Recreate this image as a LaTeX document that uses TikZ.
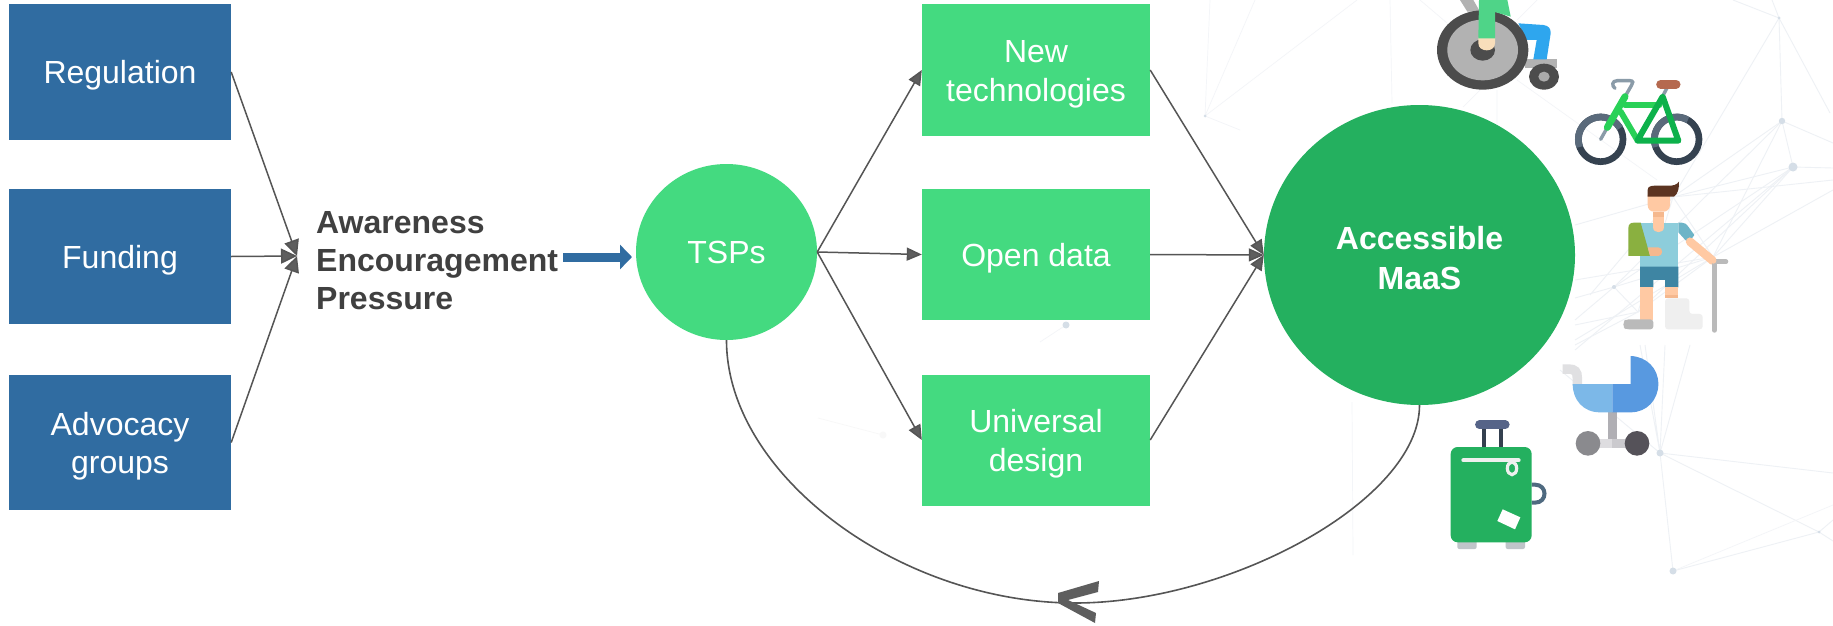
\documentclass[tikz,border=0pt]{standalone}
\usepackage{fontspec}
\setmainfont{Liberation Sans}
\usetikzlibrary{arrows.meta,shapes.geometric}
\newcommand{\padA}{\rule{0pt}{30.5pt}}
\newcommand{\padB}{\rule{0pt}{28.5pt}}
\definecolor{boxblue}{HTML}{306CA1}
\definecolor{lightgreen}{HTML}{44DA80}
\definecolor{darkgreen}{HTML}{24B05F}
\definecolor{linegray}{HTML}{555555}
\definecolor{tipgray}{HTML}{5E5E5E}
\definecolor{textgray}{HTML}{404040}
\definecolor{netline}{HTML}{EEF1F5}
\definecolor{netdot}{HTML}{D5DEE7}
\definecolor{ghost}{HTML}{F8F8F8}
\definecolor{skin}{HTML}{FFC9A3}
\definecolor{skindark}{HTML}{F5B88E}
\definecolor{hand}{HTML}{F8DEBB}
\definecolor{sleeve}{HTML}{4FD488}
\definecolor{legblue}{HTML}{2EA6EE}
\definecolor{tyredark}{HTML}{354250}
\definecolor{tyrelight}{HTML}{5A6A7B}
\definecolor{steel}{HTML}{8A9BA8}
\definecolor{saddle}{HTML}{B5694F}
\definecolor{framelight}{HTML}{29D157}
\definecolor{framedark}{HTML}{0DB14B}
\definecolor{hair}{HTML}{5C3421}
\definecolor{shirt}{HTML}{8DCDDB}
\definecolor{shirtdark}{HTML}{6DB4C7}
\definecolor{sling}{HTML}{8AB040}
\definecolor{shorts}{HTML}{3E85A3}
\definecolor{cast}{HTML}{EFEFEF}
\definecolor{prampale}{HTML}{E0E0E2}
\definecolor{prampost}{HTML}{B0AFB4}
\definecolor{axleL}{HTML}{DEDDE0}
\definecolor{axleR}{HTML}{CBCACE}
\definecolor{pramlight}{HTML}{7CB8E8}
\definecolor{pramblue}{HTML}{5899E0}
\definecolor{wheelL}{HTML}{8A8A8E}
\definecolor{wheelR}{HTML}{555259}
\definecolor{casepost}{HTML}{34404F}
\definecolor{casegrip}{HTML}{566488}
\definecolor{casefoot}{HTML}{BFC5C9}
\definecolor{caseside}{HTML}{4F6A80}
\definecolor{zipper}{HTML}{EEF0EE}
\tikzset{
  bluebox/.style={fill=boxblue,text=white,minimum width=222pt,minimum height=135pt,inner sep=0pt,align=center,font=\fontsize{32}{38.5}\selectfont},
  greenbox/.style={fill=lightgreen,text=white,minimum width=228pt,minimum height=131pt,inner sep=0pt,align=center,font=\fontsize{32}{39}\selectfont},
  conn/.style={draw=linegray,line width=1.5pt,-{Triangle[length=16pt,width=15pt,fill=tipgray]}},
  fan/.style={draw=linegray,line width=1.5pt,-{Triangle[length=15pt,width=13pt,fill=tipgray]}},
  curveline/.style={draw=linegray,line width=1.6pt},
  net/.style={draw=netline,line width=0.9pt},
  netfaint/.style={draw=netline!70,line width=0.7pt},
  dot/.style={fill=netdot,draw=none},
  iconA/.style={shift={(1380,0)},x=0.33333pt,y=-0.33333pt},
  iconB/.style={shift={(1380,320)},x=0.33333pt,y=-0.33333pt},
}
\begin{document}
\begin{tikzpicture}[x=1pt,y=-1pt]
\useasboundingbox (0,0) rectangle (1833,626);
\fill[white] (0,0) rectangle (1833,626);

% background network
\coordinate (n1) at (1779,18);
\coordinate (n2) at (1782,121);
\coordinate (n3) at (1793,167);
\coordinate (n4) at (1673,197);
\coordinate (n5) at (1713,257);
\coordinate (n6) at (1614,287);
\coordinate (n7) at (1638,312);
\coordinate (n8) at (1660,453);
\coordinate (n9) at (1673,571);
\coordinate (n10) at (1819,532);
\coordinate (n11) at (1205,116);
\coordinate (n12) at (1066,325);
\coordinate (n13) at (883,435);
\foreach \a/\b in {n1/n2,n2/n3,n2/n4,n2/n5,n3/n4,n3/n5,n3/n6,n4/n5,n4/n7,n5/n6,n5/n7,n6/n7,n8/n9,n8/n10,n9/n10,n2/n6,n3/n7,n1/n4}
  \draw[net] (\a) -- (\b);
\draw[net] (n3) -- (1833,168);
\draw[net] (n1) -- (1772,0) (n1) -- (1733,0) (n1) -- (1830,113) (n2) -- (1833,143);
\draw[net] (n4) -- (1833,180) (n5) -- (1833,190) (n6) -- (1575,298) (n6) -- (1575,320);
\draw[net] (n5) -- (1575,280) (n5) -- (1575,340) (n7) -- (1575,325) (n7) -- (1575,345);
\draw[net] (n4) -- (1575,225) (n3) -- (1575,350) (n4) -- (1590,295);
\draw[net] (n8) -- (1640,345) (n8) -- (1645,345) (n8) -- (1665,345) (n8) -- (1690,345);
\draw[net] (n8) -- (1833,473) (n8) -- (1560,370) (n10) -- (1833,520) (n10) -- (1833,541);
\draw[netfaint] (n9) -- (1833,505);
\draw[netfaint] (n11) -- (1255,0) (n11) -- (1210,0) (n11) -- (1357,0) (n11) -- (1240,130);
\draw[netfaint] (1390,0) -- (1392,103) (1420,0) -- (1447,23) (1517,80) -- (1657,180);
\draw[netfaint] (1537,0) -- (1517,20) (1497,90) -- (1497,125) (1480,90) -- (1463,107);
\draw[netfaint] (1352,402) -- (1353,555);
\draw[netfaint] (n12) -- (1040,342);
\draw[ghost,line width=0.7pt] (n13) -- (818,418);
\fill[dot] (n3) circle (4.5);
\fill[dot] (n2) circle (3.2);
\fill[dot] (n1) circle (1.5);
\fill[dot] (n6) circle (2);
\fill[dot] (n8) circle (3.5);
\fill[dot] (n9) circle (3.5);
\fill[dot] (n10) circle (1.5);
\fill[dot] (n11) circle (1.5);
\fill[dot] (n12) circle (3.5);
\fill[ghost] (n13) circle (3.5);

% left boxes
\node[bluebox] (reg) at (120,72) {\padA Regulation};
\node[bluebox] (fun) at (120,256.5) {\padA Funding};
\node[bluebox] (adv) at (120,442.5) {\padA Advocacy\\groups};
\coordinate (conv) at (297,256);
\draw[conn] (reg.east) -- (conv);
\draw[conn] (fun.east) -- (conv);
\draw[conn] (adv.east) -- (conv);

\node[text=textgray,font=\bfseries\fontsize{32}{38}\selectfont,align=left,anchor=west,inner sep=0pt] (txt) at (316,261) {Awareness\\Encouragement\\Pressure};

% TSPs
\node[ellipse,fill=lightgreen,text=white,inner sep=0pt,minimum width=181pt,minimum height=176pt,font=\fontsize{32}{39}\selectfont] (tsp) at (726.5,252) {TSPs};
\coordinate (txtE) at (563,257);
\coordinate (tspW) at (632,257);
\draw[boxblue,line width=9pt,-{Triangle[length=12pt,width=24pt]}] (txtE) -- (tspW);

% middle boxes
\node[greenbox] (new) at (1036,70) {\padA New\\technologies};
\node[greenbox] (opn) at (1036,254.5) {\padA Open data};
\node[greenbox] (uni) at (1036,440) {\padA Universal\\design};
\draw[fan] (tsp.east) -- (new.west);
\draw[fan] (tsp.east) -- (opn.west);
\draw[fan] (tsp.east) -- (uni.west);

% accessible MaaS
\node[ellipse,fill=darkgreen,text=white,inner sep=0pt,minimum width=311pt,minimum height=300pt,align=center,font=\bfseries\fontsize{32}{40}\selectfont] (maas) at (1419.5,255) {\padB Accessible\\MaaS};
\draw[fan] (new.east) -- (maas.west);
\draw[fan] (opn.east) -- (maas.west);
\draw[fan] (uni.east) -- (maas.west);

% return curve
\coordinate (low) at (1075,603);
\draw[curveline] (tsp.south) .. controls (726.5,475) and (900,603) .. (low);
\draw[curveline] (low) .. controls (1230,603) and (1419.5,500) .. (maas.south);
\fill[tipgray] (1058,593) -- (1099,581) -- (1098,592) -- (1068,600) -- (1096,613) -- (1095,623) -- (1058,603) -- cycle;

% wheelchair
\begin{scope}[iconA]
  \fill[black!30] (240,0) -- (280,0) -- (300,35) -- (262,35) -- cycle;
  \fill[black!30] (435,178) rectangle (530,205);
  \fill[legblue] (415,70) -- (490,75) .. controls (505,77) and (513,85) .. (512,100) -- (500,178) -- (460,178) -- (470,120) -- (440,120) -- cycle;
  \fill[black!70] (308,150) ellipse [x radius=137,y radius=119];
  \fill[black!30] (308,150) ellipse [x radius=106,y radius=91];
  \fill[black!70] (308,150) ellipse [x radius=37,y radius=32];
  \fill[black!70] (492,230) ellipse [x radius=45,y radius=39];
  \fill[black!33] (492,230) ellipse [x radius=17,y radius=15];
  \fill[hand] (295,112) -- (345,112) -- (345,130) .. controls (345,158) and (295,158) .. (295,130) -- cycle;
  \fill[sleeve] (297,0) -- (382,0) -- (392,50) -- (345,36) -- (345,115) -- (295,115) -- cycle;
\end{scope}

% bicycle
\begin{scope}[iconA]
  \foreach \cx/\sa/\ea in {662/-200/-30,890/-200/-60}{
    \draw[tyredark,line width=6.7pt] (\cx,418) circle (67);
    \draw[tyrelight,line width=6.7pt] ([shift={(\cx,418)}]\sa:67) arc[start angle=\sa,end angle=\ea,radius=67];
  }
  \draw[steel,line width=3.4pt,line cap=round] (662,418) -- (700,350);
  \draw[steel,line width=3.4pt,line cap=round] (705,265) .. controls (695,258) and (695,242) .. (712,242) -- (750,242) .. controls (760,242) and (760,250) .. (755,255) -- (735,290);
  \draw[steel,line width=3.4pt] (862,262) -- (846,292);
  \draw[saddle,line width=9pt,line cap=round] (842,253) -- (888,253);
  \draw[framelight,line width=6pt,line cap=round] (735,315) -- (838,315);
  \draw[framelight,line width=6pt,line cap=round] (722,335) -- (772,420);
  \draw[framelight,line width=7pt,line cap=round] (735,290) -- (682,382);
  \draw[framedark,line width=6pt,line cap=round,line join=round] (848,290) -- (772,422) -- (895,422) -- cycle;
\end{scope}

% injured man
\begin{scope}[iconA]
  \fill[skin] (803,585) -- (870,585) -- (870,615) .. controls (870,628) and (860,635) .. (850,635) -- (822,635) .. controls (812,635) and (803,628) .. (803,615) -- cycle;
  \fill[hair] (803,590) -- (803,570) .. controls (803,560) and (812,557) .. (825,557) -- (865,557) .. controls (880,557) and (890,555) .. (897,545) .. controls (897,565) and (895,580) .. (882,590) -- cycle;
  \fill[skindark] (820,635) rectangle (852,652);
  \fill[shirt] (780,668) -- (895,668) -- (895,800) -- (780,800) -- cycle;
  \fill[shirtdark] (780,668) -- (810,768) -- (780,768) -- cycle;
  \fill[shirtdark] (895,668) -- (905,668) .. controls (915,668) and (920,672) .. (925,680) -- (943,705) -- (925,730) -- (895,697) -- cycle;
  \draw[skin,line width=8.5pt,line cap=round] (930,725) -- (998,782);
  \fill[skin] (820,652) rectangle (852,680);
  \fill[skin] (820,680) .. controls (820,702) and (852,702) .. (852,680) -- cycle;
  \fill[sling] (745,768) -- (745,685) .. controls (745,672) and (752,668) .. (762,668) -- (782,668) -- (810,768) -- cycle;
  \fill[skindark] (803,742) -- (835,742) .. controls (850,742) and (850,768) .. (835,768) -- (810,768) -- cycle;
  \fill[shorts] (780,800) -- (895,800) -- (895,862) -- (855,862) -- (855,840) -- (820,840) -- (820,862) -- (780,862) -- cycle;
  \fill[skin] (780,862) rectangle (820,960);
  \fill[skin] (855,862) rectangle (895,885);
  \fill[skindark] (855,885) rectangle (895,895);
  \fill[cast,rounded corners=3pt] (855,895) -- (928,895) -- (928,942) -- (968,942) -- (968,988) -- (855,988) -- cycle;
  \fill[black!27,rounded corners=3pt] (820,958) -- (738,958) -- (730,965) -- (730,982) -- (738,988) -- (820,988) -- cycle;
  \draw[black!27,line width=5.5pt,line cap=round] (1003,785) -- (1003,990);
  \draw[black!27,line width=4.5pt,line cap=round] (1000,785) -- (1038,785);
  \fill[skin] (1000,782) circle (9);
\end{scope}

% stroller
\begin{scope}[iconB]
  \draw[prampale,line width=9.5pt] (548,147) -- (565,147) .. controls (585,147) and (592,155) .. (592,175) -- (592,195);
  \fill[prampost] (685,277) rectangle (712,360);
  \fill[axleL] (625,358) rectangle (697,385);
  \fill[axleR] (697,358) rectangle (770,385);
  \fill[pramlight] (578,192) -- (697,192) -- (697,277) -- (660,277) .. controls (610,277) and (578,240) .. (578,192) -- cycle;
  \fill[pramblue] (697,192) -- (752,192) -- (752,108) .. controls (800,110) and (835,145) .. (835,192) .. controls (835,240) and (800,277) .. (752,277) -- (697,277) -- cycle;
  \fill[wheelL] (624,370) ellipse [x radius=37,y radius=37];
  \fill[wheelR] (771,370) ellipse [x radius=37,y radius=37];
\end{scope}

% suitcase
\begin{scope}[iconB]
  \fill[casepost] (305,325) rectangle (317,384);
  \fill[casepost] (357,325) rectangle (369,384);
  \draw[casegrip,line width=8.5pt,line cap=round] (298,314) -- (376,314);
  \fill[casefoot,rounded corners=2pt] (232,660) rectangle (290,687);
  \fill[casefoot,rounded corners=2pt] (377,660) rectangle (435,687);
  \draw[caseside,line width=4pt] (455,494) -- (465,494) .. controls (503,494) and (503,548) .. (465,548) -- (455,548);
  \fill[darkgreen,rounded corners=7pt] (212,381) rectangle (455,667);
  \draw[zipper,line width=4pt,line cap=round] (250,421) -- (416,421);
  \draw[zipper,line width=3.2pt] (396,445) ellipse [x radius=14,y radius=19];
  \fill[white] (368,568) -- (421,592) -- (405,628) -- (352,603) -- cycle;
\end{scope}
\end{tikzpicture}
\end{document}
